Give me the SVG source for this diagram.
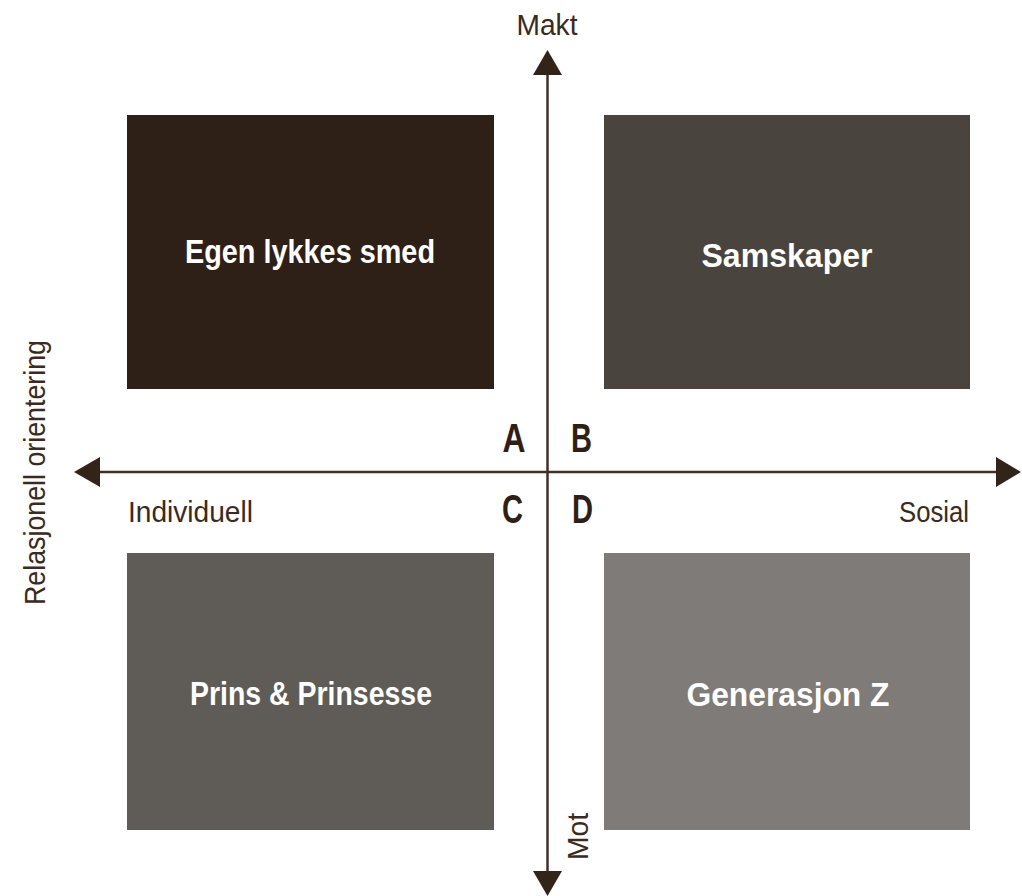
<svg xmlns="http://www.w3.org/2000/svg" width="1022" height="896" viewBox="0 0 1022 896">
<style>
.box-label{font-family:"Liberation Sans",Arial,sans-serif;font-weight:bold;font-size:33px;fill:#ffffff;text-anchor:middle}
.axis{font-family:"Liberation Sans",Arial,sans-serif;font-size:29px;fill:#3a2a20}
.letter{font-family:"Liberation Sans",Arial,sans-serif;font-weight:bold;font-size:41px;fill:#2e2016;text-anchor:middle}
.axis-line{stroke:#3f3128;stroke-width:2.5;fill:none}
.head{fill:#33241a}
</style>
<rect width="1022" height="896" fill="#ffffff"/>
<g id="node-a">
<rect x="127" y="115" width="367" height="274" fill="#2e2016"/>
<text class="box-label" x="310" y="263" textLength="250" lengthAdjust="spacingAndGlyphs">Egen lykkes smed</text>
</g>
<g id="node-b">
<rect x="604" y="115" width="366" height="274" fill="#4a443e"/>
<text class="box-label" x="787" y="267" textLength="171" lengthAdjust="spacingAndGlyphs">Samskaper</text>
</g>
<g id="node-c">
<rect x="127" y="553" width="367" height="277" fill="#5f5b56"/>
<text class="box-label" x="311" y="705" textLength="242" lengthAdjust="spacingAndGlyphs">Prins &amp; Prinsesse</text>
</g>
<g id="node-d">
<rect x="604" y="553" width="366" height="277" fill="#7f7b78"/>
<text class="box-label" x="788" y="706" textLength="203" lengthAdjust="spacingAndGlyphs">Generasjon Z</text>
</g>
<g id="connectors">
<line class="axis-line" x1="547.5" y1="72" x2="547.5" y2="874"/>
<polygon class="head" points="547.5,50 533,75 562,75"/>
<polygon class="head" points="547.5,896 533,871 562,871"/>
<line class="axis-line" x1="97" y1="472" x2="999" y2="472"/>
<polygon class="head" points="74,472 100,457 100,487"/>
<polygon class="head" points="1021,472 996,457 996,487"/>
</g>
<g id="labels">
<text class="axis" x="547" y="35" text-anchor="middle" textLength="61" lengthAdjust="spacingAndGlyphs">Makt</text>
<text class="axis" x="128" y="522" textLength="125" lengthAdjust="spacingAndGlyphs">Individuell</text>
<text class="axis" x="899" y="522" textLength="70" lengthAdjust="spacingAndGlyphs">Sosial</text>
<text class="axis" transform="translate(45,605) rotate(-90)" x="0" y="0" textLength="265" lengthAdjust="spacingAndGlyphs">Relasjonell orientering</text>
<text class="axis" transform="translate(588,860) rotate(-90)" x="0" y="0" textLength="47" lengthAdjust="spacingAndGlyphs">Mot</text>
<text class="letter" x="514" y="452" textLength="23" lengthAdjust="spacingAndGlyphs">A</text>
<text class="letter" x="581.5" y="452" textLength="21" lengthAdjust="spacingAndGlyphs">B</text>
<text class="letter" x="512.5" y="523" textLength="21" lengthAdjust="spacingAndGlyphs">C</text>
<text class="letter" x="582.5" y="523" textLength="21" lengthAdjust="spacingAndGlyphs">D</text>
</g>
</svg>
